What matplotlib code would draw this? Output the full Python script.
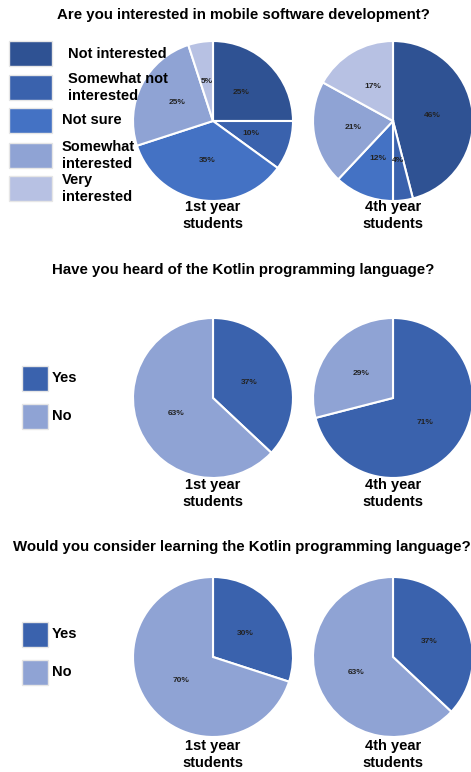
import matplotlib.pyplot as plt
from matplotlib.patches import Rectangle

plt.rcParams['font.family'] = ['Liberation Sans', 'DejaVu Sans']

# Данні опитування
q1_title = "Are you interested in mobile software development?"
q1_labels = ["Not interested", "Somewhat not\ninterested", "Not sure",
             "Somewhat\ninterested", "Very\ninterested"]
q1_first = [25, 10, 35, 25, 5]
q1_fourth = [46, 4, 12, 21, 17]
q1_colors = ['#2F5293', '#3A62AD', '#4472C4', '#8FA3D4', '#B7C1E3']

q2_title = "Have you heard of the Kotlin programming language?"
q2_first = [37, 63]
q2_fourth = [71, 29]

q3_title = "Would you consider learning the Kotlin programming language?"
q3_first = [30, 70]
q3_fourth = [37, 63]

yn_labels = ["Yes", "No"]
yn_colors = ['#3A62AD', '#8FA3D4']
group_labels = ["1st year\nstudents", "4th year\nstudents"]

W, H = 471, 772
fig = plt.figure(figsize=(W / 100, H / 100), dpi=100)
ax = fig.add_axes([0, 0, 1, 1])


def Y(y):
    # пікселі зверху -> координати знизу
    return H - y


def draw_pie(values, colors, cx, cy):
    ax.pie(values, colors=colors, center=(cx, Y(cy)), radius=80,
           startangle=90, counterclock=False,
           wedgeprops=dict(edgecolor='white', linewidth=1.5),
           autopct='%d%%', pctdistance=0.5,
           textprops=dict(fontsize=6, fontweight='bold', color='#222222'))


def draw_section(title, title_y, title_x, first, fourth, colors, pie_y, lab_y):
    ax.text(title_x, Y(title_y), title, ha='center', va='center',
            fontsize=10.8, fontweight='bold')
    draw_pie(first, colors, 213, pie_y)
    draw_pie(fourth, colors, 393, pie_y)
    for x, lab in zip([213, 393], group_labels):
        ax.text(x, Y(lab_y), lab, ha='center', va='top', fontsize=10.5,
                fontweight='bold', linespacing=1.3)


# Перша секція
draw_section(q1_title, 15, 243, q1_first, q1_fourth, q1_colors, 121, 200)
box_tops = [41, 75, 108, 143, 176]
text_x = [68, 68, 62, 62, 62]
for top, col, lab, tx in zip(box_tops, q1_colors, q1_labels, text_x):
    ax.add_patch(Rectangle((9, Y(top + 25)), 43, 25, facecolor=col,
                           edgecolor='#e6e6e6', linewidth=1))
    ax.text(tx, Y(top + 12.5), lab, ha='left', va='center', fontsize=10.5,
            fontweight='bold', linespacing=1.35)

# Друга і третя секції
for title, ty, tx, first, fourth, py, ly, leg_tops in [
        (q2_title, 270, 243, q2_first, q2_fourth, 398, 478, [366, 404]),
        (q3_title, 547, 242, q3_first, q3_fourth, 657, 739, [622, 660])]:
    draw_section(title, ty, tx, first, fourth, yn_colors, py, ly)
    for top, col, lab in zip(leg_tops, yn_colors, yn_labels):
        ax.add_patch(Rectangle((22, Y(top + 25)), 26, 25, facecolor=col,
                               edgecolor='#e6e6e6', linewidth=1))
        ax.text(52, Y(top + 12.5), lab, ha='left', va='center',
                fontsize=10.5, fontweight='bold')

ax.set_xlim(0, W)
ax.set_ylim(0, H)
ax.set_aspect('equal')
ax.axis('off')

fig.savefig('out.png', dpi=100, facecolor='white')
